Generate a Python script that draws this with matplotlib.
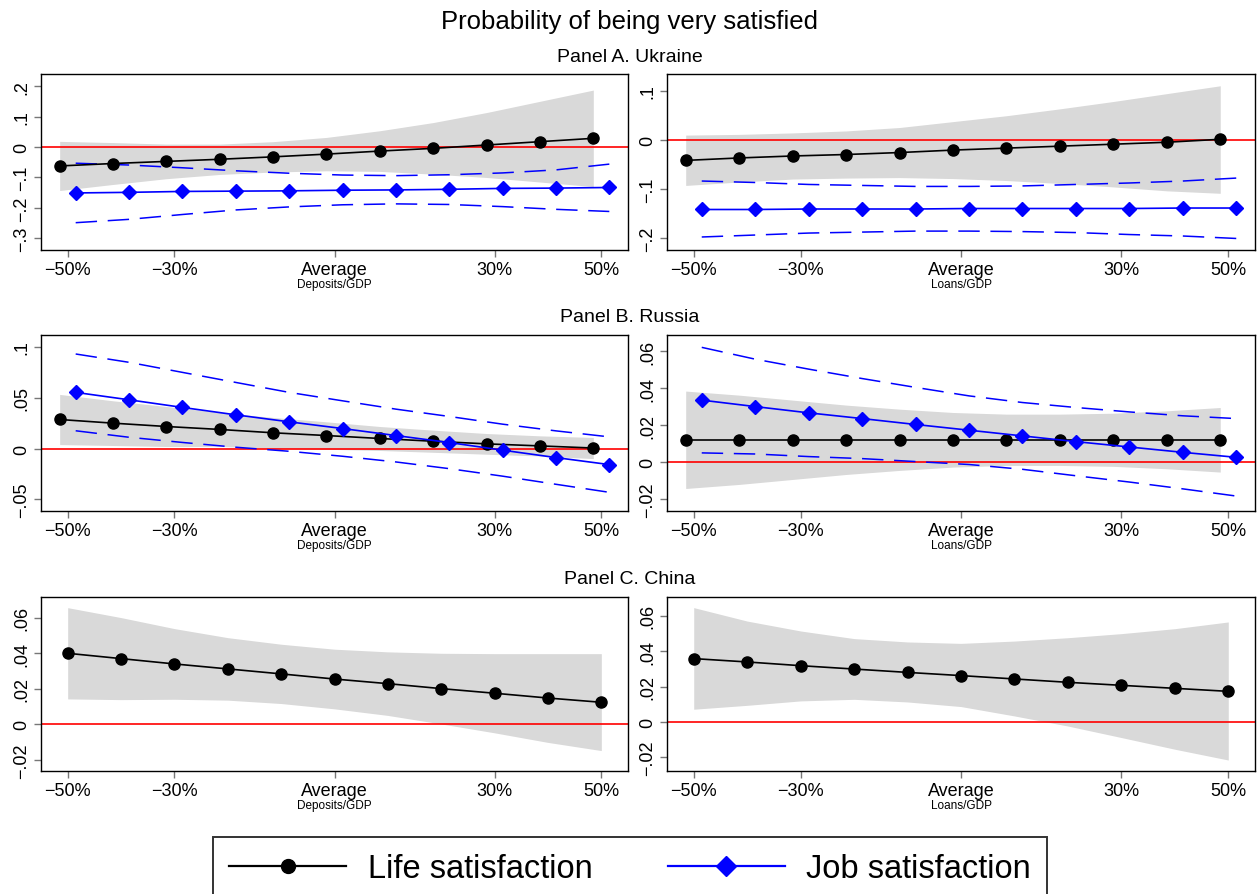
"""Probability of being very satisfied: margins by Deposits/GDP and Loans/GDP."""

import matplotlib
matplotlib.use("Agg")
import matplotlib.pyplot as plt
from matplotlib.lines import Line2D

plt.rcParams["font.family"] = ["Liberation Sans", "DejaVu Sans"]

W, H = 1258, 895

# deviation from average (percent)
steps = [-50, -40, -30, -20, -10, 0, 10, 20, 30, 40, 50]
tick_pos = [-50, -30, 0, 30, 50]
tick_labels = ["\u221250%", "\u221230%", "Average", "30%", "50%"]

# Panel A. Ukraine, Deposits/GDP
ua_dep_life = [-0.062, -0.054, -0.047, -0.040, -0.032, -0.023, -0.013, -0.004, 0.007, 0.018, 0.029]
ua_dep_life_hi = [0.019, 0.015, 0.010, 0.010, 0.018, 0.032, 0.054, 0.081, 0.114, 0.151, 0.188]
ua_dep_life_lo = [-0.143, -0.123, -0.104, -0.090, -0.082, -0.078, -0.080, -0.089, -0.100, -0.115, -0.130]
ua_dep_job = [-0.151, -0.149, -0.146, -0.145, -0.144, -0.142, -0.141, -0.139, -0.136, -0.135, -0.133]
ua_dep_job_hi = [-0.053, -0.059, -0.068, -0.078, -0.086, -0.092, -0.094, -0.091, -0.085, -0.075, -0.056]
ua_dep_job_lo = [-0.249, -0.238, -0.222, -0.207, -0.197, -0.190, -0.187, -0.189, -0.196, -0.205, -0.212]

# Panel A. Ukraine, Loans/GDP
ua_loan_life = [-0.042, -0.037, -0.033, -0.030, -0.026, -0.021, -0.017, -0.013, -0.009, -0.005, 0.001]
ua_loan_life_hi = [0.0095, 0.011, 0.014, 0.018, 0.025, 0.037, 0.049, 0.063, 0.078, 0.094, 0.110]
ua_loan_life_lo = [-0.093, -0.086, -0.080, -0.078, -0.077, -0.079, -0.083, -0.089, -0.096, -0.104, -0.109]
ua_loan_job = [-0.142, -0.142, -0.141, -0.141, -0.141, -0.140, -0.140, -0.140, -0.140, -0.139, -0.139]
ua_loan_job_hi = [-0.084, -0.087, -0.091, -0.093, -0.095, -0.095, -0.094, -0.091, -0.088, -0.084, -0.078]
ua_loan_job_lo = [-0.198, -0.194, -0.190, -0.188, -0.186, -0.186, -0.187, -0.189, -0.193, -0.196, -0.201]

# Panel B. Russia, Deposits/GDP
ru_dep_life = [0.0286, 0.025, 0.0217, 0.0188, 0.0155, 0.0128, 0.0099, 0.0072, 0.0046, 0.0026, 0.0005]
ru_dep_life_hi = [0.0533, 0.047, 0.0414, 0.0355, 0.0306, 0.0263, 0.0217, 0.0181, 0.0148, 0.0125, 0.0109]
ru_dep_life_lo = [0.0039, 0.003, 0.002, 0.0021, 0.0004, -0.0007, -0.0019, -0.0037, -0.0056, -0.0073, -0.0099]
ru_dep_job = [0.0553, 0.048, 0.0405, 0.0332, 0.0263, 0.0197, 0.0128, 0.0059, -0.0016, -0.0089, -0.0158]
ru_dep_job_hi = [0.0931, 0.0849, 0.075, 0.0651, 0.0553, 0.047, 0.0388, 0.0316, 0.024, 0.0174, 0.0115]
ru_dep_job_lo = [0.0175, 0.0111, 0.006, 0.0013, -0.0027, -0.0076, -0.0132, -0.0198, -0.0272, -0.0352, -0.0431]

# Panel B. Russia, Loans/GDP
ru_loan_life = [0.012, 0.012, 0.012, 0.012, 0.012, 0.012, 0.012, 0.012, 0.012, 0.012, 0.012]
ru_loan_life_hi = [0.0384, 0.0362, 0.0335, 0.0308, 0.0286, 0.0268, 0.0259, 0.0259, 0.0264, 0.0277, 0.0295]
ru_loan_life_lo = [-0.0144, -0.0122, -0.0095, -0.0068, -0.0046, -0.0028, -0.0019, -0.0019, -0.0024, -0.0037, -0.0055]
ru_loan_job = [0.0335, 0.030, 0.0266, 0.0235, 0.0203, 0.0172, 0.0141, 0.011, 0.0081, 0.0052, 0.0025]
ru_loan_job_hi = [0.0621, 0.0557, 0.0503, 0.0452, 0.0404, 0.0358, 0.0322, 0.0295, 0.0271, 0.025, 0.0235]
ru_loan_job_lo = [0.0049, 0.0043, 0.0029, 0.0018, 0.0002, -0.0014, -0.004, -0.0075, -0.0109, -0.0146, -0.0185]

# Panel C. China (life satisfaction only)
cn_dep_life = [0.040, 0.037, 0.034, 0.0312, 0.0284, 0.0255, 0.0229, 0.0201, 0.0175, 0.0148, 0.0124]
cn_dep_life_hi = [0.0657, 0.0601, 0.0539, 0.0488, 0.0451, 0.0423, 0.0408, 0.0400, 0.0398, 0.0398, 0.0398]
cn_dep_life_lo = [0.0143, 0.0139, 0.0141, 0.0136, 0.0117, 0.0087, 0.005, 0.0002, -0.0048, -0.0102, -0.0148]
cn_loan_life = [0.0358, 0.0339, 0.0318, 0.0299, 0.028, 0.0262, 0.0243, 0.0224, 0.0207, 0.019, 0.0173]
cn_loan_life_hi = [0.0646, 0.057, 0.0514, 0.0471, 0.0452, 0.0444, 0.0457, 0.0476, 0.0499, 0.0527, 0.0565]
cn_loan_life_lo = [0.0072, 0.0094, 0.0119, 0.0128, 0.0113, 0.0087, 0.0034, -0.0023, -0.0088, -0.0154, -0.0215]

BLUE = "#0000ff"
GRAY = "#d9d9d9"


def px_axes(fig, x0, y0, x1, y1):
    """Add axes from pixel box (top-left origin)."""
    return fig.add_axes([x0 / W, 1 - y1 / H, (x1 - x0) / W, (y1 - y0) / H])


def draw_panel(ax, life, life_lo, life_hi, job=None, job_lo=None, job_hi=None,
               ylim=None, yticks=None, ylabels=None, xlabel=""):
    shift = 1.5 if job is not None else 0.0
    xl = [s - shift for s in steps]
    xj = [s + shift for s in steps]

    ax.fill_between(xl, life_lo, life_hi, color=GRAY, lw=0, zorder=1)
    ax.axhline(0, color="red", lw=1.2, zorder=2)
    if job is not None:
        ax.plot(xj, job_hi, color=BLUE, lw=1.1, ls=(0, (14, 7)), zorder=3)
        ax.plot(xj, job_lo, color=BLUE, lw=1.1, ls=(0, (14, 7)), zorder=3)
    ax.plot(xl, life, color="black", lw=1.2, marker="o", ms=8, zorder=4)
    if job is not None:
        ax.plot(xj, job, color=BLUE, lw=1.2, marker="D", ms=7.5, zorder=5)

    ax.set_xlim(-55, 55)
    ax.set_ylim(*ylim)
    ax.set_xticks(tick_pos)
    ax.set_xticklabels(tick_labels, fontsize=13)
    ax.set_yticks(yticks)
    ax.set_yticklabels(ylabels, fontsize=13, rotation=90, va="center")
    ax.tick_params(direction="out", length=5, width=1, color="#777777", pad=3)
    ax.set_xlabel(xlabel, fontsize=8.5, labelpad=0)
    for sp in ax.spines.values():
        sp.set_linewidth(1.0)


def main() -> None:
    fig = plt.figure(figsize=(W / 100, H / 100), dpi=100)

    fig.text(630 / W, 1 - 22 / H, "Probability of being very satisfied",
             ha="center", va="center", fontsize=18.5)
    fig.text(630 / W, 1 - 57 / H, "Panel A. Ukraine", ha="center", va="center", fontsize=14)
    fig.text(630 / W, 1 - 318 / H, "Panel B. Russia", ha="center", va="center", fontsize=14)
    fig.text(630 / W, 1 - 579 / H, "Panel C. China", ha="center", va="center", fontsize=14)

    m = "\u2212"
    ax = px_axes(fig, 41, 75, 628, 251)
    draw_panel(ax, ua_dep_life, ua_dep_life_lo, ua_dep_life_hi,
               ua_dep_job, ua_dep_job_lo, ua_dep_job_hi,
               ylim=(-0.339, 0.241), yticks=[-0.3, -0.2, -0.1, 0, 0.1, 0.2],
               ylabels=[m + ".3", m + ".2", m + ".1", "0", ".1", ".2"], xlabel="Deposits/GDP")

    ax = px_axes(fig, 667, 75, 1255, 251)
    draw_panel(ax, ua_loan_life, ua_loan_life_lo, ua_loan_life_hi,
               ua_loan_job, ua_loan_job_lo, ua_loan_job_hi,
               ylim=(-0.2245, 0.134), yticks=[-0.2, -0.1, 0, 0.1],
               ylabels=[m + ".2", m + ".1", "0", ".1"], xlabel="Loans/GDP")

    ax = px_axes(fig, 41, 336, 628, 512)
    draw_panel(ax, ru_dep_life, ru_dep_life_lo, ru_dep_life_hi,
               ru_dep_job, ru_dep_job_lo, ru_dep_job_hi,
               ylim=(-0.0615, 0.1118), yticks=[-0.05, 0, 0.05, 0.1],
               ylabels=[m + ".05", "0", ".05", ".1"], xlabel="Deposits/GDP")

    ax = px_axes(fig, 667, 336, 1255, 512)
    draw_panel(ax, ru_loan_life, ru_loan_life_lo, ru_loan_life_hi,
               ru_loan_job, ru_loan_job_lo, ru_loan_job_hi,
               ylim=(-0.0266, 0.0688), yticks=[-0.02, 0, 0.02, 0.04, 0.06],
               ylabels=[m + ".02", "0", ".02", ".04", ".06"], xlabel="Loans/GDP")

    ax = px_axes(fig, 41, 598, 628, 772)
    draw_panel(ax, cn_dep_life, cn_dep_life_lo, cn_dep_life_hi,
               ylim=(-0.0263, 0.0717), yticks=[-0.02, 0, 0.02, 0.04, 0.06],
               ylabels=[m + ".02", "0", ".02", ".04", ".06"], xlabel="Deposits/GDP")

    ax = px_axes(fig, 667, 598, 1255, 772)
    draw_panel(ax, cn_loan_life, cn_loan_life_lo, cn_loan_life_hi,
               ylim=(-0.0277, 0.0706), yticks=[-0.02, 0, 0.02, 0.04, 0.06],
               ylabels=[m + ".02", "0", ".02", ".04", ".06"], xlabel="Loans/GDP")

    handles = [
        Line2D([], [], color="black", lw=1.6, marker="o", ms=10),
        Line2D([], [], color=BLUE, lw=1.6, marker="D", ms=10),
    ]
    leg = fig.legend(handles, ["Life satisfaction", "Job satisfaction"],
                     loc="upper center", bbox_to_anchor=(630 / W, 1 - 838 / H),
                     ncol=2, fontsize=23.5, frameon=True, fancybox=False,
                     edgecolor="black", handlelength=3.6, handletextpad=0.65,
                     columnspacing=2.3, borderpad=0.5, borderaxespad=0)
    leg.get_frame().set_linewidth(1.4)

    fig.savefig("out.png", dpi=100)


if __name__ == "__main__":
    main()
